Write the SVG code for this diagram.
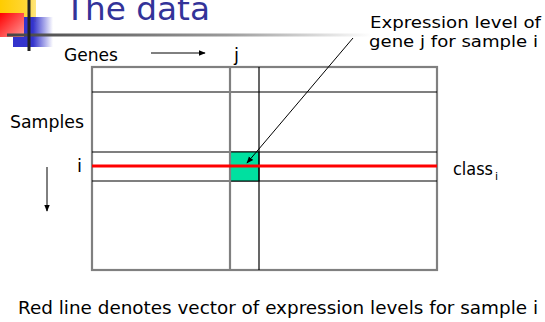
<svg xmlns="http://www.w3.org/2000/svg" width="545" height="322" viewBox="0 0 545 322">
<style>
text{font-family:"DejaVu Sans","Open Sans",sans-serif;fill:#000}
.grid{stroke:#000;stroke-width:1.2;fill:none}
.gray{stroke:#808080;stroke-width:2.2;fill:none}
.conn{stroke:#000;stroke-width:1;fill:none}
</style>
<defs>
<marker id="ah" viewBox="0 0 10 10" refX="9" refY="5" markerWidth="7" markerHeight="7" orient="auto" markerUnits="userSpaceOnUse">
<path d="M0,1 L10,5 L0,9 z" fill="#000"/>
</marker>
<linearGradient id="rule" x1="0" x2="1" y1="0" y2="0">
<stop offset="0" stop-color="#444"/>
<stop offset="0.6" stop-color="#9a9a9a"/>
<stop offset="1" stop-color="#fff"/>
</linearGradient>
<linearGradient id="blue" x1="0" x2="1" y1="0" y2="0">
<stop offset="0" stop-color="#3333cc"/>
<stop offset="0.5" stop-color="#3333cc"/>
<stop offset="1" stop-color="#3333cc" stop-opacity="0"/>
</linearGradient>
<linearGradient id="red" x1="0" x2="1" y1="0" y2="1">
<stop offset="0" stop-color="#ff0000"/>
<stop offset="1" stop-color="#ff9999"/>
</linearGradient>
<linearGradient id="yel" x1="0" x2="1" y1="0" y2="0">
<stop offset="0" stop-color="#ffcc00"/>
<stop offset="0.7" stop-color="#ffd633"/>
<stop offset="1" stop-color="#ffe680"/>
</linearGradient>
</defs>
<rect width="545" height="322" fill="#fff"/>
<g id="logo">
<rect x="0" y="0" width="36" height="22" fill="url(#yel)"/>
<rect x="13" y="17" width="40" height="30" fill="url(#blue)"/>
<rect x="0" y="13" width="24" height="24" fill="url(#red)"/>
<rect x="7" y="33.5" width="365" height="3" fill="url(#rule)"/>
<rect x="27.5" y="0" width="3" height="51" fill="#222"/>
</g>
<g id="title">
<text x="65" y="20" font-size="32" style="fill:#333399" textLength="145" lengthAdjust="spacingAndGlyphs">The data</text>
</g>
<g id="matrix">
<rect x="92" y="67" width="345" height="203" class="gray"/>
<line x1="92" y1="92" x2="437" y2="92" class="grid"/>
<line x1="92" y1="152" x2="437" y2="152" class="grid"/>
<line x1="92" y1="181" x2="437" y2="181" class="grid"/>
<rect id="cell" x="230" y="152" width="29" height="29" fill="#00e0a0" stroke="#000" stroke-width="1"/>
<line x1="230" y1="67" x2="230" y2="270" class="gray" stroke-width="1.5"/>
<line x1="259" y1="67" x2="259" y2="270" class="grid"/>
<line x1="92" y1="166" x2="437" y2="166" stroke="#ff0000" stroke-width="3"/>
</g>
<g id="labels">
<text x="64" y="61" font-size="17" textLength="54" lengthAdjust="spacingAndGlyphs">Genes</text>
<text x="234" y="61" font-size="18">j</text>
<text x="10" y="128" font-size="17" textLength="74" lengthAdjust="spacingAndGlyphs">Samples</text>
<text x="77" y="172" font-size="18">i</text>
<text x="453" y="175" font-size="18" textLength="40" lengthAdjust="spacingAndGlyphs">class</text>
<text x="495" y="180" font-size="11">i</text>
<text x="370" y="28" font-size="16" textLength="171" lengthAdjust="spacingAndGlyphs">Expression level of</text>
<text x="369" y="47" font-size="16" textLength="169" lengthAdjust="spacingAndGlyphs">gene j for sample i</text>
<text x="18" y="314" font-size="17" textLength="520" lengthAdjust="spacingAndGlyphs">Red line denotes vector of expression levels for sample i</text>
</g>
<g id="connectors">
<line x1="151" y1="53" x2="205" y2="53" class="conn" marker-end="url(#ah)"/>
<line x1="47" y1="167" x2="47" y2="211" class="conn" marker-end="url(#ah)"/>
<line x1="353" y1="38" x2="247" y2="163" class="conn" marker-end="url(#ah)"/>
</g>
</svg>
